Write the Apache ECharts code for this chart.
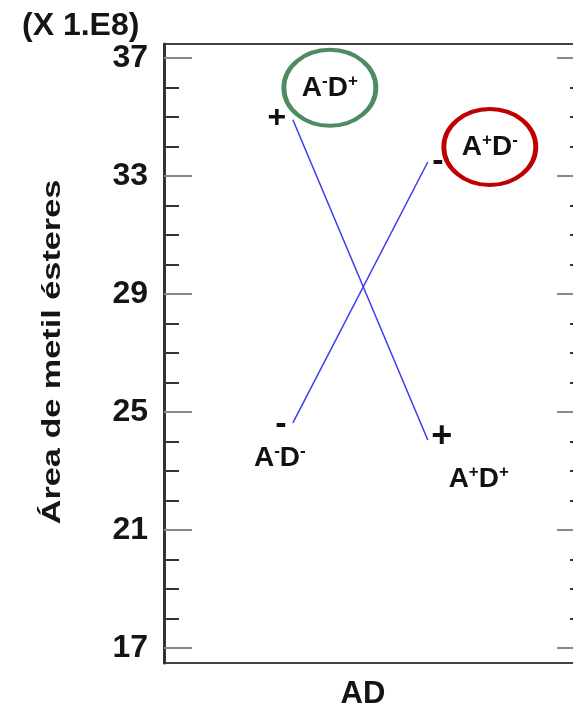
<!DOCTYPE html>
<html>
<head>
<meta charset="utf-8">
<script src="https://cdn.jsdelivr.net/npm/echarts@6/dist/echarts.min.js"></script>
<style>
  html, body { margin: 0; background: #fff; }
  #main { width: 573px; height: 709px; }
</style>
</head>
<body>
<div id="main"></div>
<script>
// factor A levels (low / high) on the x axis
const aLevels = [-1, 1];
// mean response for D+ and D- (x 1.E8)
const dPlus = [34.9, 24.05];
const dMinus = [24.63, 33.47];
const yLabelValues = [17, 21, 25, 29, 33, 37];
const yTickValues = [17, 18, 19, 20, 21, 22, 23, 24, 25, 26, 27, 28, 29, 30, 31, 32, 33, 34, 35, 36, 37];

const FONT = 'Liberation Sans, Arial, sans-serif';

const chart = echarts.init(document.getElementById('main'));

function yAx(pos, ticks, len, color, withLabels) {
  return {
    type: 'value',
    position: pos,
    min: 16.49,
    max: 37.47,
    axisLine: { show: withLabels, onZero: false, lineStyle: { color: '#333', width: 3 } },
    axisTick: { show: true, inside: true, length: len, customValues: ticks, lineStyle: { color: color, width: 2 } },
    axisLabel: {
      show: withLabels,
      customValues: yLabelValues,
      margin: 16,
      color: '#151515',
      fontSize: 32,
      fontWeight: 'bold',
      fontFamily: FONT
    },
    splitLine: { show: false }
  };
}

chart.setOption({
  animation: false,
  backgroundColor: '#fff',
  grid: {
    left: 164, top: 44, width: 421, height: 619,
    outerBoundsMode: 'none',
    show: true, borderColor: '#444', borderWidth: 2
  },
  xAxis: { type: 'value', min: -2.91, max: 3.33, show: false, axisLine: { onZero: false } },
  yAxis: [
    yAx('left', yTickValues, 15, '#333', true),
    yAx('left', yLabelValues, 28, '#888', false),
    yAx('right', yTickValues, 15, '#333', false),
    yAx('right', yLabelValues, 28, '#888', false)
  ],
  series: [
    {
      name: 'D+', type: 'line', symbol: 'none',
      data: aLevels.map((a, i) => [a, dPlus[i]]),
      lineStyle: { color: '#3b3bf2', width: 1.5 }
    },
    {
      name: 'D-', type: 'line', symbol: 'none',
      data: aLevels.map((a, i) => [a, dMinus[i]]),
      lineStyle: { color: '#3b3bf2', width: 1.5 }
    }
  ]
});

// annotations placed relative to the data points
const px = (a, v) => chart.convertToPixel({ xAxisIndex: 0, yAxisIndex: 0 }, [a, v]);
const pPlusL = px(aLevels[0], dPlus[0]);
const pPlusR = px(aLevels[1], dPlus[1]);
const pMinL = px(aLevels[0], dMinus[0]);
const pMinR = px(aLevels[1], dMinus[1]);

const rich = {
  b: { fontSize: 28, fontWeight: 'bold', fontFamily: FONT, fill: '#111', lineHeight: 30 },
  s: { fontSize: 17, fontWeight: 'bold', fontFamily: FONT, fill: '#111', verticalAlign: 'top', lineHeight: 30 }
};
function combo(a, d) {
  return '{b|A}{s|' + a + '}{b|D}{s|' + d + '}';
}
function sign(p, dx, dy, t, size) {
  return {
    type: 'text', x: p[0] + dx, y: p[1] + dy,
    style: { text: t, font: 'bold ' + size + 'px ' + FONT, fill: '#111', align: 'center', verticalAlign: 'middle' }
  };
}
function tag(p, dx, dy, a, d) {
  return {
    type: 'text', x: p[0] + dx, y: p[1] + dy,
    style: { text: combo(a, d), rich: rich, align: 'center', verticalAlign: 'middle' }
  };
}
function ring(p, dx, dy, rx, ry, color) {
  return {
    type: 'circle', x: p[0] + dx, y: p[1] + dy, scaleX: rx / ry,
    shape: { cx: 0, cy: 0, r: ry },
    style: { fill: 'none', stroke: color, lineWidth: 4, strokeNoScale: true }
  };
}

chart.setOption({
  graphic: [
    {
      type: 'text', left: 22, top: 10,
      style: { text: '(X 1.E8)', font: 'bold 32px ' + FONT, fill: '#151515' }
    },
    {
      type: 'text', x: 53, y: 352, rotation: Math.PI / 2, scaleX: 1.37,
      style: { text: 'Área de metil ésteres', font: 'bold 25px ' + FONT, fill: '#151515', align: 'center', verticalAlign: 'middle' }
    },
    {
      type: 'text', x: 363, y: 694,
      style: { text: 'AD', font: 'bold 31px ' + FONT, fill: '#151515', align: 'center', verticalAlign: 'middle' }
    },
    sign(pPlusL, -16, -2, '+', 32),
    sign(pMinL, -12, 2, '-', 34),
    sign(pMinR, 10, 0, '-', 34),
    sign(pPlusR, 14, -3, '+', 36),
    tag(pMinL, -13, 35, '-', '-'),
    tag(pPlusR, 51, 39, '+', '+'),
    tag(pPlusL, 37, -32, '-', '+'),
    tag(pMinR, 62, -15, '+', '-'),
    ring(pPlusL, 37, -32, 46, 38, '#4e8b60'),
    ring(pMinR, 62, -15, 46, 38, '#c00000')
  ]
});
</script>
</body>
</html>
